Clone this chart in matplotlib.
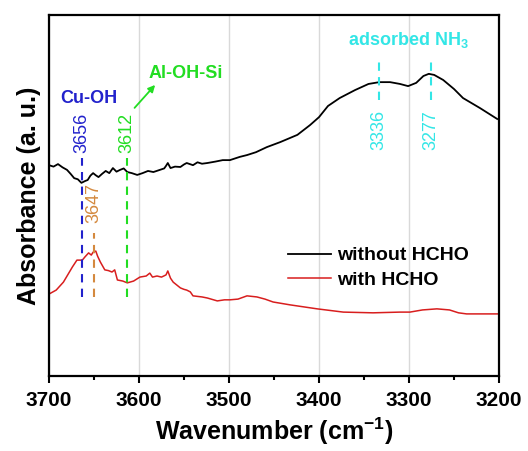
import matplotlib.pyplot as plt

plt.rcParams['font.family'] = ['Liberation Sans', 'DejaVu Sans']
plt.rcParams['mathtext.fontset'] = 'custom'
plt.rcParams['mathtext.rm'] = 'Liberation Sans:bold'
plt.rcParams['mathtext.bf'] = 'Liberation Sans:bold'
plt.rcParams['mathtext.default'] = 'bf'

# spectrum without HCHO (wavenumber, absorbance a.u.)
w_black = [3700, 3695, 3690, 3685, 3680, 3676, 3672, 3668, 3664, 3660, 3657, 3654,
           3651, 3648, 3645, 3641, 3637, 3633, 3629, 3625, 3621, 3617, 3613, 3608,
           3602, 3596, 3590, 3584, 3578, 3572, 3570, 3568, 3565, 3560, 3554, 3550,
           3547, 3540, 3535, 3530, 3524, 3515, 3507, 3499, 3488, 3480, 3470, 3458,
           3443, 3424, 3410, 3400, 3390, 3377, 3360, 3345, 3333, 3321, 3310, 3301,
           3292, 3284, 3278, 3272, 3262, 3250, 3240, 3221, 3202]
a_black = [0.584, 0.580, 0.587, 0.578, 0.571, 0.560, 0.548, 0.545, 0.535, 0.540, 0.543, 0.555,
           0.562, 0.556, 0.551, 0.560, 0.568, 0.562, 0.576, 0.566, 0.571, 0.575, 0.565, 0.562,
           0.557, 0.562, 0.568, 0.565, 0.570, 0.575, 0.582, 0.590, 0.576, 0.580, 0.579, 0.586,
           0.590, 0.584, 0.592, 0.588, 0.590, 0.594, 0.598, 0.598, 0.607, 0.612, 0.620, 0.634,
           0.648, 0.668, 0.695, 0.717, 0.748, 0.770, 0.792, 0.809, 0.814, 0.814, 0.809, 0.803,
           0.812, 0.831, 0.837, 0.834, 0.820, 0.795, 0.770, 0.742, 0.712]

# spectrum with HCHO
w_red = [3700, 3692, 3684, 3674, 3669, 3663, 3660, 3656, 3653, 3651, 3648, 3646,
         3643, 3638, 3634, 3630, 3627, 3624, 3618, 3613, 3606, 3599, 3592, 3588,
         3585, 3580, 3575, 3570, 3568, 3565, 3562, 3554, 3550, 3547, 3543, 3540,
         3530, 3524, 3513, 3505, 3499, 3490, 3480, 3469, 3460, 3451, 3432, 3402,
         3373, 3340, 3310, 3299, 3285, 3269, 3255, 3245, 3236, 3200]
a_red = [0.227, 0.238, 0.260, 0.302, 0.321, 0.321, 0.330, 0.341, 0.335, 0.343, 0.346, 0.332,
         0.316, 0.294, 0.292, 0.288, 0.294, 0.266, 0.263, 0.258, 0.263, 0.274, 0.277, 0.285,
         0.274, 0.277, 0.274, 0.280, 0.291, 0.271, 0.260, 0.244, 0.240, 0.238, 0.233, 0.222,
         0.219, 0.216, 0.208, 0.211, 0.211, 0.213, 0.222, 0.219, 0.213, 0.205, 0.197, 0.186,
         0.177, 0.175, 0.177, 0.177, 0.183, 0.186, 0.183, 0.175, 0.172, 0.172]

# marker lines: (x, y_low, y_high, label, label_y, colour)
marks = [
    (3663, 0.219, 0.604, '3656', 0.673, '#2222cc'),
    (3650, 0.219, 0.396, '3647', 0.479, '#d4893e'),
    (3613, 0.219, 0.604, '3612', 0.673, '#22dd22'),
    (3333, 0.765, 0.875, '3336', 0.681, '#33e6e6'),
    (3276, 0.765, 0.875, '3277', 0.681, '#33e6e6'),
]

fig = plt.figure(figsize=(5.28, 4.51), dpi=100)
ax = fig.add_axes([49 / 528, 75 / 451, 450 / 528, 361 / 451])

ax.plot(w_black, a_black, color='black', lw=1.3, label='without HCHO')
ax.plot(w_red, a_red, color='#d81e1e', lw=1.1, label='with HCHO')

for x, y0, y1, lab, ly, c in marks:
    ax.plot([x, x], [y0, y1], color=c, lw=1.5, ls=(0, (4, 3)))
    ax.text(x, ly, lab, color=c, rotation=90, ha='center', va='center', fontsize=13)

ax.text(3656, 0.770, 'Cu-OH', color='#2222cc', fontsize=13, fontweight='bold',
        ha='center', va='center')
ax.text(3548, 0.839, 'Al-OH-Si', color='#22dd22', fontsize=13, fontweight='bold',
        ha='center', va='center')
ax.annotate('', xy=(3580, 0.812), xytext=(3607, 0.737),
            arrowprops=dict(arrowstyle='-|>', color='#22dd22', lw=1.3, mutation_scale=10))
ax.text(3301, 0.931, 'adsorbed NH$_3$', color='#33e6e6', fontsize=13, fontweight='bold',
        ha='center', va='center')

ax.set_xlim(3700, 3200)
ax.set_ylim(0, 1)
ax.set_xticks([3700, 3600, 3500, 3400, 3300, 3200])
ax.set_xticks([3650, 3550, 3450, 3350, 3250], minor=True)
ax.set_yticks([])
ax.grid(axis='x', color='#d9d9d9', lw=1)
ax.set_axisbelow(True)
for s in ax.spines.values():
    s.set_linewidth(1.6)
ax.tick_params(axis='x', which='major', length=5, width=1.5, labelsize=15, pad=6)
ax.tick_params(axis='x', which='minor', length=3, width=1.5)
for t in ax.get_xticklabels():
    t.set_fontweight('bold')

ax.set_xlabel('Wavenumber (cm$^{-1}$)', fontsize=18, fontweight='bold', labelpad=4)
ax.set_ylabel('Absorbance (a. u.)', fontsize=18, fontweight='bold', labelpad=6)

leg = ax.legend(loc='upper left', bbox_to_anchor=(0.51, 0.385), frameon=False,
                prop={'weight': 'bold', 'size': 14}, handlelength=2.2,
                handletextpad=0.3, labelspacing=0.35, borderpad=0)

fig.savefig('out.png', dpi=100)
